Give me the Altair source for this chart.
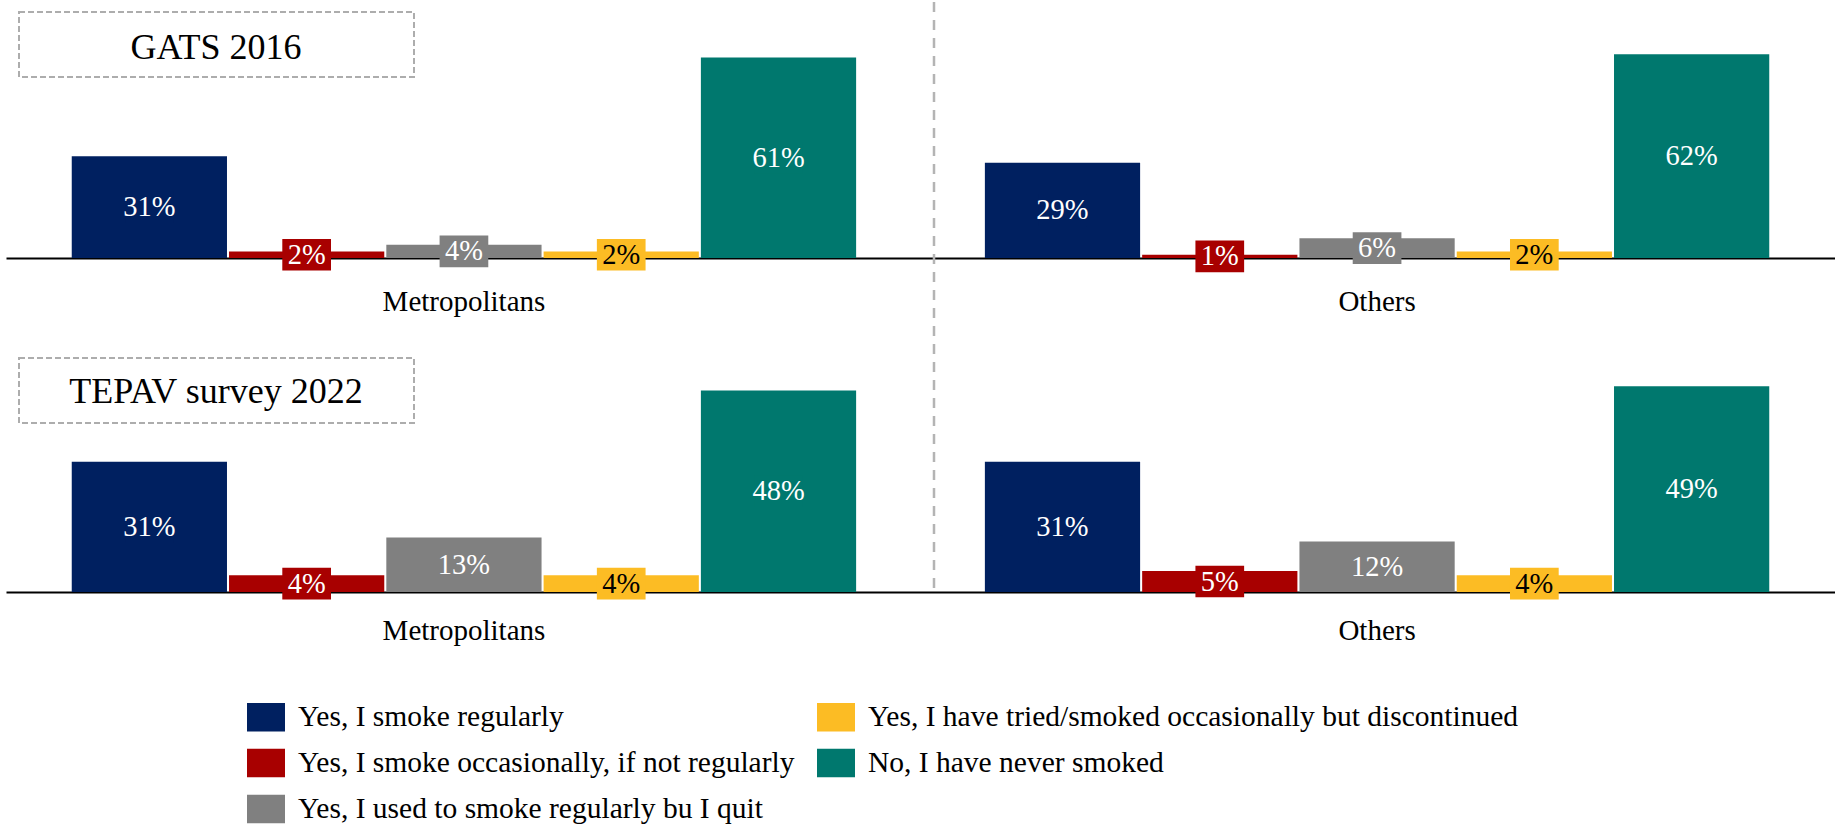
import altair as alt
import pandas as pd

groups = ["Metropolitans", "Others"]
categories = [
    "Yes, I smoke regularly",
    "Yes, I smoke occasionally, if not regularly",
    "Yes, I used to smoke regularly bu I quit",
    "Yes, I have tried/smoked occasionally but discontinued",
    "No, I have never smoked",
]
colors = ["#002060", "#A80000", "#808080", "#FCBC24", "#00786E"]
surveys = ["GATS 2016", "TEPAV survey 2022"]

gats_metro = [31, 2, 4, 2, 61]
gats_others = [29, 1, 6, 2, 62]
tepav_metro = [31, 4, 13, 4, 48]
tepav_others = [31, 5, 12, 4, 49]

series = {
    ("GATS 2016", "Metropolitans"): gats_metro,
    ("GATS 2016", "Others"): gats_others,
    ("TEPAV survey 2022", "Metropolitans"): tepav_metro,
    ("TEPAV survey 2022", "Others"): tepav_others,
}
rows = []
for (survey, group), vals in series.items():
    for cat, v in zip(categories, vals):
        rows.append({"survey": survey, "group": group, "category": cat,
                     "value": v, "label": f"{v}%"})
df = pd.DataFrame(rows)

FONT = "Liberation Serif"

RECT_PATH = "M-1,-0.75L1,-0.75L1,0.75L-1,0.75Z"
BOX_PATH = "M-1,-0.65L1,-0.65L1,0.65L-1,0.65Z"

legend_def = alt.Legend(
    title=None, orient="none", legendX=241, legendY=696, columns=2,
    symbolType=RECT_PATH, symbolSize=1444, symbolStrokeWidth=0, symbolOpacity=1,
    labelFont=FONT, labelFontSize=29.5, labelColor="black", labelLimit=2000,
    labelOffset=13, columnPadding=22, rowPadding=12, padding=0,
)


def row_chart(survey, ymax, height, label_pad, title_y, box_y, box_y2, with_divider):
    d = df[df.survey == survey]
    yscale = alt.Scale(domain=[0, ymax], nice=False, zero=True)
    base = alt.Chart(d).encode(
        x=alt.X("group:N", sort=groups,
                scale=alt.Scale(paddingInner=0.141, paddingOuter=0.072),
                axis=alt.Axis(title=None, labelAngle=0, ticks=False, tickSize=0,
                              domainColor="black", domainWidth=2,
                              labelFont=FONT, labelFontSize=29, labelColor="black",
                              labelPadding=label_pad, grid=False)),
        xOffset=alt.XOffset("category:N", sort=categories,
                            scale=alt.Scale(paddingInner=0.013)),
    )
    bars = base.mark_bar().encode(
        y=alt.Y("value:Q", scale=yscale, axis=None),
        color=alt.Color("category:N",
                        scale=alt.Scale(domain=categories, range=colors),
                        legend=legend_def),
    )
    mid = base.transform_calculate(mid="datum.value / 2")
    boxes = mid.mark_point(shape=BOX_PATH, size=2372, filled=True, opacity=1,
                           strokeWidth=0).encode(
        y=alt.Y("mid:Q", scale=yscale, axis=None),
        fill=alt.Fill("category:N",
                      scale=alt.Scale(domain=categories, range=colors),
                      legend=None),
    )
    texts = mid.mark_text(font=FONT, fontSize=28.5, baseline="middle").encode(
        y=alt.Y("mid:Q", scale=yscale, axis=None),
        text="label:N",
        color=alt.condition(alt.datum.category == categories[3],
                            alt.value("black"), alt.value("white")),
    )
    tdf = pd.DataFrame({"title": [survey]})
    title_box = alt.Chart(tdf).mark_rect(
        fill="white", fillOpacity=0, stroke="#ADADAD", strokeWidth=2,
        strokeDash=[6, 3]).encode(
        x=alt.value(13), x2=alt.value(408), y=alt.value(box_y), y2=alt.value(box_y2))
    title_txt = alt.Chart(tdf).mark_text(
        font=FONT, fontSize=36, color="black", align="center",
        baseline="alphabetic").encode(
        x=alt.value(210), y=alt.value(title_y), text="title:N")
    layers = [bars, boxes, texts, title_box, title_txt]
    if with_divider:
        divider = alt.Chart(tdf).mark_rule(
            stroke="#B4B4B4", strokeWidth=2.5, strokeDash=[10, 8]).encode(
            x=alt.value(928), y=alt.value(0), y2=alt.value(588))
        layers.append(divider)
    return alt.layer(*layers).properties(width=1829, height=height)


top = row_chart("GATS 2016", 77.93, 256, 29, 56.5, 10, 75, True)
bottom = row_chart("TEPAV survey 2022", 69.05, 290, 24, 101, 56, 121, False)

chart = alt.vconcat(top, bottom, spacing=44, bounds="flush").properties(
    padding={"left": 6, "top": 0, "right": 0, "bottom": 0}
).configure_view(stroke=None).configure_axis(grid=False)

chart.save("out.html", embed_options={"renderer": "svg", "actions": False})
